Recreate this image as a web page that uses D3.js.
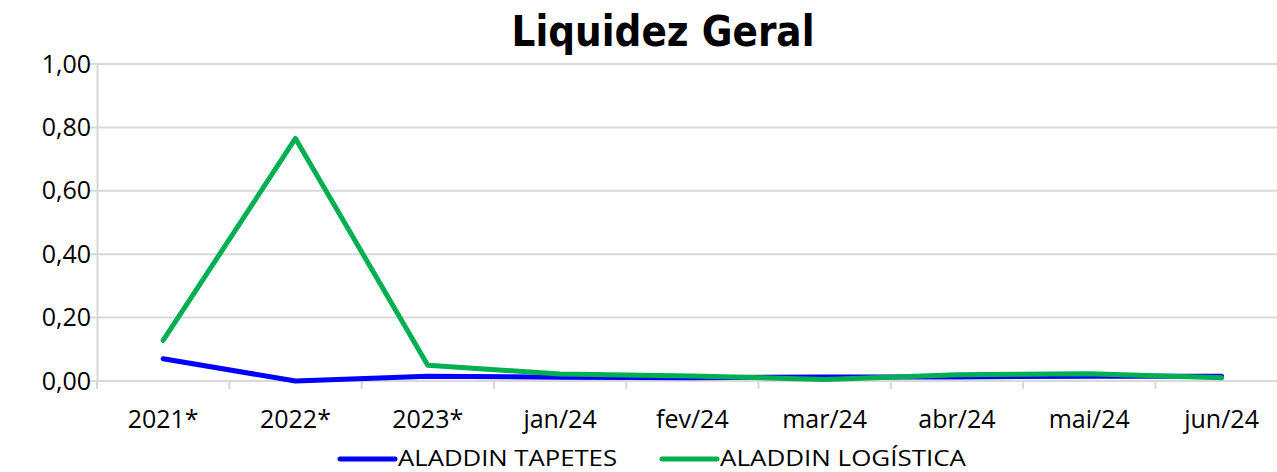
<!DOCTYPE html>
<html>
<head>
<meta charset="utf-8">
<script src="https://cdn.jsdelivr.net/npm/d3@7"></script>
<style>
  body { margin: 0; background: #fff; }
  svg { display: block; }
  .tick text { font-family: "Open Sans", "Liberation Sans", sans-serif; font-size: 25px; fill: #000; }
</style>
</head>
<body>
<div id="chart"></div>
<script>
const categories = ["2021*", "2022*", "2023*", "jan/24", "fev/24", "mar/24", "abr/24", "mai/24", "jun/24"];
const tapetes = [0.070, 0.000, 0.015, 0.012, 0.010, 0.013, 0.013, 0.015, 0.015];
const logistica = [0.128, 0.765, 0.050, 0.022, 0.016, 0.005, 0.020, 0.023, 0.010];
const yTicks = [0, 0.2, 0.4, 0.6, 0.8, 1.0];
const seriesNames = ["ALADDIN TAPETES", "ALADDIN LOGÍSTICA"];
const colors = ["#0000ff", "#00b050"];

const width = 1277, height = 472;
const margin = { top: 64, left: 97, bottom: 91 };
const plotW = 9 * 132.3;
const plotH = height - margin.top - margin.bottom;

const svg = d3.select("#chart").append("svg")
  .attr("width", width)
  .attr("height", height);

// title
svg.append("text")
  .attr("x", 663)
  .attr("y", 46)
  .attr("text-anchor", "middle")
  .attr("textLength", 303)
  .attr("lengthAdjust", "spacingAndGlyphs")
  .style("font-family", "'DejaVu Sans Condensed', 'DejaVu Sans', sans-serif")
  .style("font-weight", "bold")
  .style("font-size", "43px")
  .text("Liquidez Geral");

const g = svg.append("g")
  .attr("transform", `translate(${margin.left},${margin.top})`);

const x = d3.scaleBand().domain(categories).range([0, plotW]).padding(0);
const y = d3.scaleLinear().domain([0, 1]).range([plotH, 0]);

// grid
g.append("g")
  .selectAll("line")
  .data(yTicks)
  .join("line")
  .attr("x1", -8)
  .attr("x2", plotW)
  .attr("y1", d => y(d))
  .attr("y2", d => y(d))
  .attr("stroke", "#d9d9d9")
  .attr("stroke-width", 2);

// y axis
const yAxis = g.append("g")
  .call(d3.axisLeft(y).tickValues(yTicks).tickSize(0).tickPadding(6)
    .tickFormat(d => d3.format(".2f")(d).replace(".", ",")));
yAxis.select(".domain").attr("stroke", "#d9d9d9").attr("stroke-width", 2);

// x axis
const xAxis = g.append("g")
  .attr("transform", `translate(0,${plotH})`)
  .call(d3.axisBottom(x).tickSize(0).tickPadding(0));
xAxis.select(".domain").remove();
xAxis.selectAll(".tick text").attr("y", 38).attr("dy", "0.35em");
g.append("g")
  .attr("transform", `translate(0,${plotH})`)
  .selectAll("line")
  .data(d3.range(categories.length + 1))
  .join("line")
  .attr("x1", i => i * x.step())
  .attr("x2", i => i * x.step())
  .attr("y1", 0)
  .attr("y2", 8)
  .attr("stroke", "#d9d9d9")
  .attr("stroke-width", 2);

const line = d3.line()
  .x((d, i) => x(categories[i]) + x.bandwidth() / 2)
  .y(d => y(d));

[tapetes, logistica].forEach((s, k) => {
  g.append("path")
    .datum(s)
    .attr("fill", "none")
    .attr("stroke", colors[k])
    .attr("stroke-width", 5)
    .attr("stroke-linecap", "round")
    .attr("stroke-linejoin", "round")
    .attr("d", line);
});

// legend
const legendX = [340, 662];
const legendW = [219, 246];
const leg = svg.append("g");
seriesNames.forEach((name, k) => {
  leg.append("line")
    .attr("x1", legendX[k])
    .attr("x2", legendX[k] + 55)
    .attr("y1", 459)
    .attr("y2", 459)
    .attr("stroke", colors[k])
    .attr("stroke-width", 5)
    .attr("stroke-linecap", "round");
  leg.append("text")
    .attr("x", legendX[k] + 58)
    .attr("y", 466)
    .attr("textLength", legendW[k])
    .attr("lengthAdjust", "spacingAndGlyphs")
    .style("font-family", "'Open Sans', 'Liberation Sans', sans-serif")
    .style("font-size", "22px")
    .text(name);
});
</script>
</body>
</html>
